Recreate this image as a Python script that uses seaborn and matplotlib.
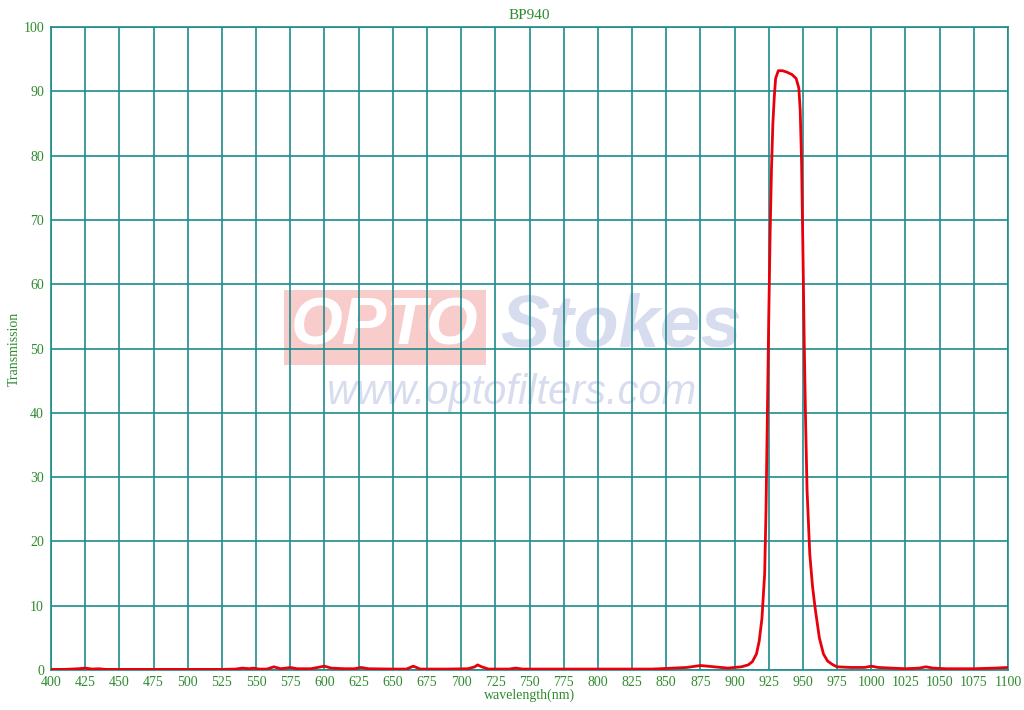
import pandas as pd
import matplotlib
matplotlib.use("Agg")
import matplotlib.pyplot as plt
import seaborn as sns

# transmission curve of the BP940 band-pass filter
wavelength = [400, 410, 420, 425, 430, 435, 440, 450, 475, 500, 525, 535, 540, 545, 548,
              552, 558, 563, 568, 572, 575, 580, 590, 595, 600, 605, 615, 622, 627, 632,
              650, 660, 665, 670, 690, 705, 710, 712, 715, 720, 735, 740, 745, 775, 800,
              840, 855, 865, 875, 885, 895, 900, 905, 910, 913, 916, 918, 920, 922, 923,
              924, 925, 926, 927, 928, 929, 930, 932, 935, 938, 942, 945, 947, 948, 949,
              950, 951, 952, 953, 955, 957, 959, 962, 965, 968, 972, 975, 985, 995, 1000,
              1005, 1015, 1025, 1035, 1040, 1045, 1055, 1075, 1090, 1100]
transmission = [0.1, 0.1, 0.2, 0.3, 0.15, 0.2, 0.1, 0.1, 0.1, 0.1, 0.1, 0.15, 0.3, 0.2, 0.3,
                0.15, 0.15, 0.5, 0.2, 0.3, 0.4, 0.2, 0.2, 0.4, 0.6, 0.3, 0.2, 0.2, 0.4, 0.2,
                0.15, 0.15, 0.6, 0.15, 0.15, 0.2, 0.5, 0.8, 0.5, 0.15, 0.15, 0.3, 0.15, 0.15, 0.15,
                0.15, 0.3, 0.4, 0.7, 0.5, 0.3, 0.4, 0.5, 0.8, 1.3, 2.5, 4.5, 8, 15, 25,
                40, 55, 68, 78, 85, 89, 92, 93.2, 93.2, 93.0, 92.6, 92.0, 90.5, 87, 79,
                65, 50, 38, 28, 18, 13, 9.5, 5, 2.5, 1.4, 0.8, 0.5, 0.4, 0.4, 0.6,
                0.4, 0.3, 0.2, 0.3, 0.5, 0.3, 0.2, 0.2, 0.3, 0.4]

x_ticks = list(range(400, 1101, 25))
y_ticks = list(range(0, 101, 10))

df = pd.DataFrame({"wavelength": wavelength, "transmission": transmission})

grid_col = "#1E8C8C"
text_col = "#2E8B2E"

sns.set_style("white")
plt.rcParams['font.family'] = ['Liberation Serif', 'DejaVu Serif']

fig = plt.figure(figsize=(10.24, 7.10), dpi=100)
ax = fig.add_axes([0.0498, 0.0563, 0.9346, 0.9057])

# watermark
wm_font = ["Liberation Sans", "DejaVu Sans"]
ax.text(0.349, 0.533, "OPTO", transform=ax.transAxes, fontsize=48, fontweight="bold",
        style="italic", color="white", ha="center", va="center", zorder=1, family=wm_font,
        bbox=dict(boxstyle="square,pad=0.1", fc="#F08080", ec="none", alpha=0.4))
ax.text(0.595, 0.533, "Stokes", transform=ax.transAxes, fontsize=53, fontweight="bold",
        style="italic", color="#9FA8D8", alpha=0.4, ha="center", va="center", zorder=1,
        family=wm_font)
ax.text(0.482, 0.431, "www.optofilters.com", transform=ax.transAxes, fontsize=30,
        style="italic", color="#9FA8D8", alpha=0.4, ha="center", va="center", zorder=1,
        family=wm_font)

sns.lineplot(data=df, x="wavelength", y="transmission", ax=ax, color="#E8000B",
             linewidth=2, zorder=3)

ax.set_xlim(400, 1100)
ax.set_ylim(0, 100)
ax.set_xticks(x_ticks)
ax.set_yticks(y_ticks)
ax.grid(True, color=grid_col, linewidth=1.2, zorder=2)
ax.set_axisbelow(False)
for s in ax.spines.values():
    s.set_color(grid_col)
    s.set_linewidth(1.2)
ax.tick_params(axis="x", length=0, pad=4, labelsize=10, labelcolor=text_col)
ax.tick_params(axis="y", length=0, pad=5, labelsize=10, labelcolor=text_col)

ax.set_title("BP940", fontsize=11, color=text_col, pad=6)
ax.set_xlabel("wavelength(nm)", fontsize=10, color=text_col, labelpad=0)
ax.set_ylabel("Transmission", fontsize=10, color=text_col, labelpad=0)
ax.yaxis.set_label_coords(-0.032, 0.5)

fig.savefig("out.png", dpi=100)
